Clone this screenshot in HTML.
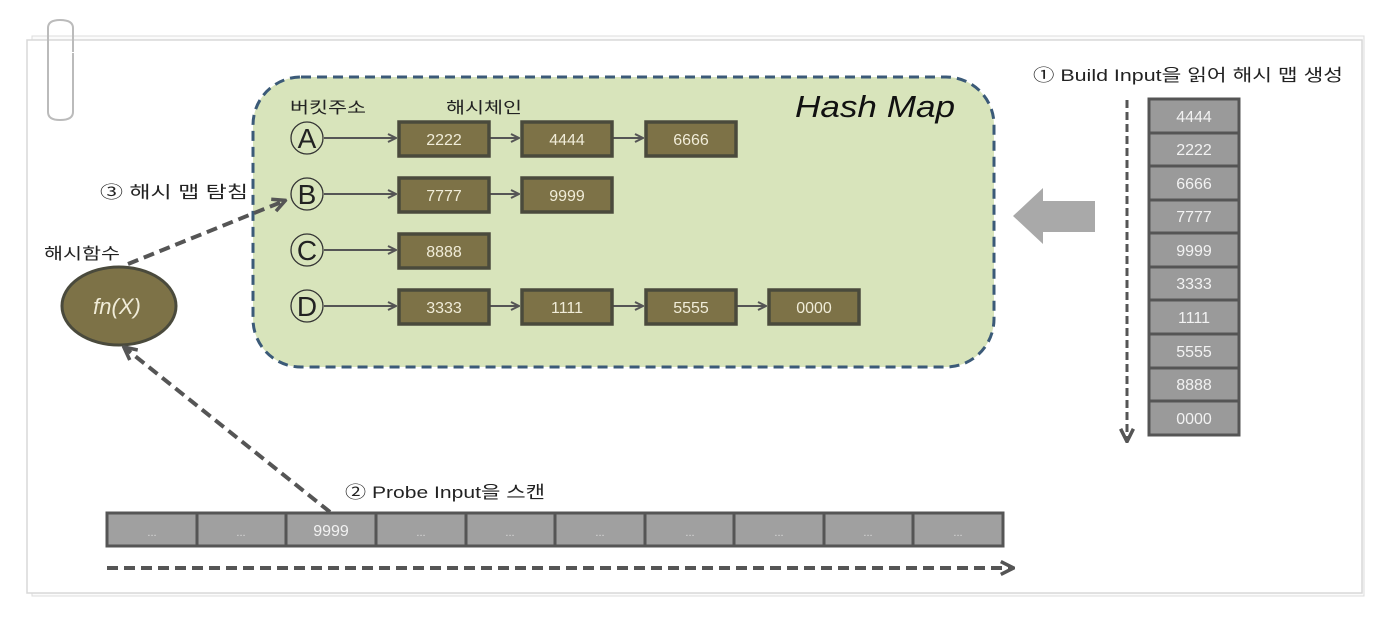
<!DOCTYPE html>
<html><head><meta charset="utf-8"><style>
html,body{margin:0;padding:0;background:#fff;}
svg{display:block;}
text{font-family:"Liberation Sans","Noto Sans CJK KR","NanumGothic",sans-serif;}
</style></head><body>
<svg width="1390" height="624" viewBox="0 0 1390 624" xmlns="http://www.w3.org/2000/svg">
<defs>
<marker id="ah" viewBox="0 0 10 10" refX="9" refY="5" markerWidth="10" markerHeight="10" markerUnits="userSpaceOnUse" orient="auto"><path d="M1,1 L9,5 L1,9" fill="none" stroke="#555" stroke-width="2"/></marker>
<marker id="ah2" viewBox="0 0 10 10" refX="8" refY="5" markerWidth="16" markerHeight="16" markerUnits="userSpaceOnUse" orient="auto"><path d="M1,1 L9,5 L1,9" fill="none" stroke="#555" stroke-width="2.2"/></marker>
</defs>
<rect x="32" y="36" width="1332" height="560" fill="#fbfbfb" stroke="#ddd"/>
<rect x="27" y="40" width="1335" height="553" fill="#fff" stroke="#d8d8d8" stroke-width="1.5"/>
<path d="M48,28 Q48,20 60,20 Q73,20 73,28 L73,52 M48,28 L48,112 Q48,120 60,120 Q73,120 73,112 L73,53" fill="none" stroke="#bbb" stroke-width="2"/>
<rect x="253" y="77" width="741" height="290" rx="48" fill="#d8e4bb" stroke="#3b5a78" stroke-width="3" stroke-dasharray="10,6"/>
<text x="795" y="117" font-size="31" font-style="italic" fill="#111" textLength="160" lengthAdjust="spacingAndGlyphs">Hash Map</text>
<text x="290" y="113" font-size="16" fill="#222" textLength="76" lengthAdjust="spacingAndGlyphs">버킷주소</text>
<text x="446" y="113" font-size="16" fill="#222" textLength="76" lengthAdjust="spacingAndGlyphs">해시체인</text>
<g font-size="28" fill="#222" text-anchor="middle">
<g fill="none" stroke="#333" stroke-width="1.3">
<circle cx="307" cy="138" r="16"/><circle cx="307" cy="194" r="16"/><circle cx="307" cy="250" r="16"/><circle cx="307" cy="306" r="16"/>
</g>
<text x="307" y="148">A</text><text x="307" y="204">B</text><text x="307" y="260">C</text><text x="307" y="316">D</text>
</g>
<g stroke="#555" stroke-width="2" marker-end="url(#ah)">
<line x1="324" y1="138" x2="396" y2="138"/><line x1="324" y1="194" x2="396" y2="194"/><line x1="324" y1="250" x2="396" y2="250"/><line x1="324" y1="306" x2="396" y2="306"/>
<line x1="490" y1="138" x2="519" y2="138"/><line x1="613" y1="138" x2="643" y2="138"/>
<line x1="490" y1="194" x2="519" y2="194"/>
<line x1="490" y1="306" x2="519" y2="306"/><line x1="613" y1="306" x2="643" y2="306"/><line x1="737" y1="306" x2="766" y2="306"/>
</g>
<g fill="#7d7247" stroke="#4a4a3c" stroke-width="3.5">
<rect x="399" y="122" width="90" height="34"/><rect x="522" y="122" width="90" height="34"/><rect x="646" y="122" width="90" height="34"/>
<rect x="399" y="178" width="90" height="34"/><rect x="522" y="178" width="90" height="34"/>
<rect x="399" y="234" width="90" height="34"/>
<rect x="399" y="290" width="90" height="34"/><rect x="522" y="290" width="90" height="34"/><rect x="646" y="290" width="90" height="34"/><rect x="769" y="290" width="90" height="34"/>
</g>
<g font-size="16" fill="#f0ecd8" text-anchor="middle">
<text x="444" y="145">2222</text><text x="567" y="145">4444</text><text x="691" y="145">6666</text>
<text x="444" y="201">7777</text><text x="567" y="201">9999</text>
<text x="444" y="257">8888</text>
<text x="444" y="313">3333</text><text x="567" y="313">1111</text><text x="691" y="313">5555</text><text x="814" y="313">0000</text>
</g>
<path d="M1095,201 L1043,201 L1043,188 L1013,216 L1043,244 L1043,232 L1095,232 Z" fill="#a9a9a9"/>
<text x="1033" y="81" font-size="17" fill="#222" textLength="310" lengthAdjust="spacingAndGlyphs">① Build Input을 읽어 해시 맵 생성</text>
<line x1="1127" y1="100" x2="1127" y2="440" stroke="#555" stroke-width="3" stroke-dasharray="8,4" marker-end="url(#ah2)"/>
<rect x="1149" y="99" width="90" height="336" fill="#9a9a9a" stroke="#555" stroke-width="3"/>
<g stroke="#555" stroke-width="3">
<line x1="1149" y1="133" x2="1239" y2="133"/><line x1="1149" y1="166" x2="1239" y2="166"/><line x1="1149" y1="200" x2="1239" y2="200"/><line x1="1149" y1="233" x2="1239" y2="233"/><line x1="1149" y1="267" x2="1239" y2="267"/><line x1="1149" y1="300" x2="1239" y2="300"/><line x1="1149" y1="334" x2="1239" y2="334"/><line x1="1149" y1="368" x2="1239" y2="368"/><line x1="1149" y1="401" x2="1239" y2="401"/>
</g>
<g font-size="16" fill="#f2f2f2" text-anchor="middle">
<text x="1194" y="122">4444</text><text x="1194" y="155">2222</text><text x="1194" y="189">6666</text><text x="1194" y="222">7777</text><text x="1194" y="256">9999</text><text x="1194" y="289">3333</text><text x="1194" y="323">1111</text><text x="1194" y="357">5555</text><text x="1194" y="390">8888</text><text x="1194" y="424">0000</text>
</g>
<text x="44" y="259" font-size="16" fill="#222" textLength="76" lengthAdjust="spacingAndGlyphs">해시함수</text>
<ellipse cx="119" cy="306" rx="57" ry="39" fill="#7d7247" stroke="#4a4a3c" stroke-width="3"/>
<text x="117" y="314" font-size="22" font-style="italic" fill="#f0ecd8" text-anchor="middle">fn(X)</text>
<text x="100" y="198" font-size="17" fill="#222" textLength="148" lengthAdjust="spacingAndGlyphs">③ 해시 맵 탐침</text>
<line x1="128" y1="264" x2="284" y2="201" stroke="#555" stroke-width="4" stroke-dasharray="11,6" marker-end="url(#ah2)"/>
<line x1="330" y1="512" x2="125" y2="348" stroke="#555" stroke-width="4" stroke-dasharray="11,6" marker-end="url(#ah2)"/>
<text x="345" y="498" font-size="17" fill="#222" textLength="200" lengthAdjust="spacingAndGlyphs">② Probe Input을 스캔</text>
<rect x="107" y="513" width="896" height="33" fill="#a0a0a0" stroke="#555" stroke-width="3"/>
<g stroke="#555" stroke-width="3">
<line x1="197" y1="513" x2="197" y2="546"/><line x1="286" y1="513" x2="286" y2="546"/><line x1="376" y1="513" x2="376" y2="546"/><line x1="466" y1="513" x2="466" y2="546"/><line x1="555" y1="513" x2="555" y2="546"/><line x1="645" y1="513" x2="645" y2="546"/><line x1="734" y1="513" x2="734" y2="546"/><line x1="824" y1="513" x2="824" y2="546"/><line x1="913" y1="513" x2="913" y2="546"/>
</g>
<g font-size="11" fill="#ddd" text-anchor="middle">
<text x="152" y="536">...</text><text x="241" y="536">...</text><text x="421" y="536">...</text><text x="510" y="536">...</text><text x="600" y="536">...</text><text x="690" y="536">...</text><text x="779" y="536">...</text><text x="868" y="536">...</text><text x="958" y="536">...</text>
</g>
<text x="331" y="536" font-size="16" fill="#f2f2f2" text-anchor="middle">9999</text>
<line x1="107" y1="568" x2="1012" y2="568" stroke="#555" stroke-width="4" stroke-dasharray="11,6" marker-end="url(#ah2)"/>
</svg>
</body></html>
